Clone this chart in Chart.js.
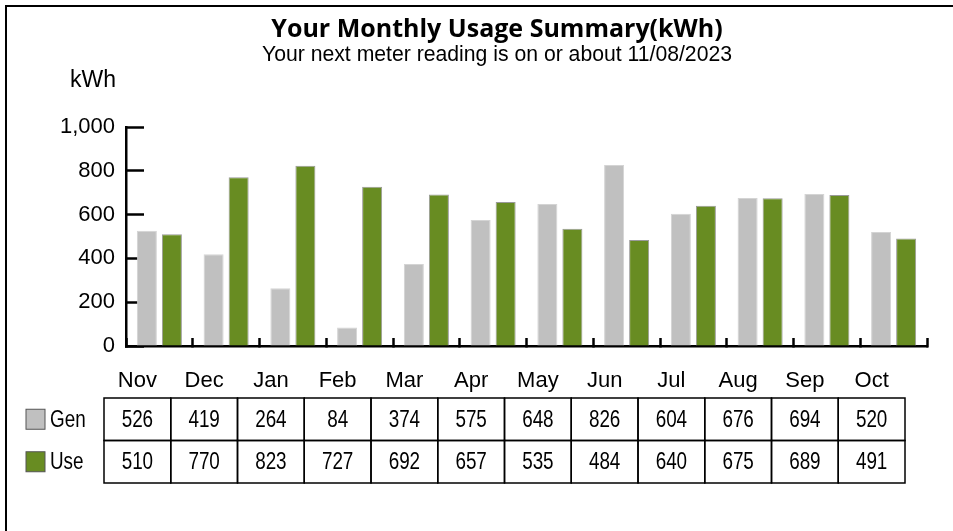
<!DOCTYPE html>
<html>
<head>
    <title>Your Monthly Usage Summary</title>
    <script src="https://cdn.jsdelivr.net/npm/chart.js"></script>
    <style>
        body { margin: 0; background: #fff; }
    </style>
</head>
<body>
    <canvas id="usageChart" width="953" height="531"></canvas>

    <script>
        const months = ['Nov', 'Dec', 'Jan', 'Feb', 'Mar', 'Apr', 'May', 'Jun', 'Jul', 'Aug', 'Sep', 'Oct'];
        const genValues = [526, 419, 264, 84, 374, 575, 648, 826, 604, 676, 694, 520];
        const useValues = [510, 770, 823, 727, 692, 657, 535, 484, 640, 675, 689, 491];
        const yTicks = [0, 200, 400, 600, 800, 1000];

        const arial = "'Liberation Sans', Arial, sans-serif";
        const labelShift = -22; // month labels + table sit left of the bars
        const narrowScale = 0.82; // no Arial Narrow installed, squeeze Arial instead

        function narrowText(ctx, text, x, y) {
            ctx.save();
            ctx.translate(x, y);
            ctx.scale(narrowScale, 1);
            ctx.fillText(text, 0, 0);
            ctx.restore();
        }

        // frame, kWh caption, legend and value table
        const extrasPlugin = {
            id: 'extras',
            beforeDraw(chart) {
                const ctx = chart.ctx;
                ctx.save();
                ctx.fillStyle = '#fff';
                ctx.fillRect(0, 0, chart.width, chart.height);
                ctx.strokeStyle = '#000';
                ctx.lineWidth = 2;
                ctx.beginPath();
                ctx.moveTo(6, chart.height);
                ctx.lineTo(6, 6);
                ctx.lineTo(chart.width, 6);
                ctx.stroke();
                ctx.restore();
            },
            afterDraw(chart) {
                const ctx = chart.ctx;
                const x = chart.scales.x;
                const y = chart.scales.y;
                ctx.save();

                // unit caption above the y axis
                ctx.fillStyle = '#000';
                ctx.font = '23px ' + arial;
                ctx.textAlign = 'right';
                ctx.textBaseline = 'alphabetic';
                ctx.fillText('kWh', y.right - 10, 87);

                // table
                const colW = x.width / months.length;
                const rowTop = 398;
                const rowH = 42.5;
                const rows = [genValues, useValues];
                ctx.lineWidth = 1.5;
                ctx.strokeStyle = '#000';
                ctx.textAlign = 'center';
                ctx.textBaseline = 'middle';
                ctx.font = '23px ' + arial;
                rows.forEach((vals, r) => {
                    vals.forEach((v, i) => {
                        const cx = x.getPixelForValue(i) + labelShift;
                        ctx.strokeRect(cx - colW / 2, rowTop + r * rowH, colW, rowH);
                        narrowText(ctx, String(v), cx, rowTop + r * rowH + rowH / 2 + 1);
                    });
                });

                // legend
                chart.data.datasets.forEach((ds, r) => {
                    const cy = rowTop + r * rowH + rowH / 2;
                    ctx.fillStyle = ds.backgroundColor;
                    ctx.fillRect(26, cy - 10, 19, 20);
                    ctx.strokeStyle = '#555';
                    ctx.lineWidth = 1;
                    ctx.strokeRect(26, cy - 10, 19, 20);
                    ctx.fillStyle = '#000';
                    ctx.textAlign = 'left';
                    narrowText(ctx, ds.label, 50, cy + 1);
                });
                ctx.restore();
            }
        };

        const ctx = document.getElementById('usageChart').getContext('2d');
        const chart = new Chart(ctx, {
            type: 'bar',
            data: {
                labels: months,
                datasets: [
                    {
                        label: 'Gen',
                        data: genValues,
                        backgroundColor: '#c0c0c0',
                        borderColor: '#d4d4d4',
                        borderWidth: 1,
                        categoryPercentage: 0.75,
                        barPercentage: 0.8
                    },
                    {
                        label: 'Use',
                        data: useValues,
                        backgroundColor: '#688c22',
                        borderColor: '#9a9a9a',
                        borderWidth: 1,
                        categoryPercentage: 0.75,
                        barPercentage: 0.8
                    }
                ]
            },
            options: {
                responsive: false,
                animation: false,
                layout: {
                    padding: { left: 41, right: 0, top: 0, bottom: 125 }
                },
                plugins: {
                    legend: { display: false },
                    tooltip: { enabled: false },
                    title: {
                        display: true,
                        text: 'Your Monthly Usage Summary(kWh)',
                        color: '#000',
                        font: { family: "'Open Sans', sans-serif", size: 25, weight: 'bold', lineHeight: 1 },
                        padding: { top: 17.5, bottom: 0 }
                    },
                    subtitle: {
                        display: true,
                        text: 'Your next meter reading is on or about 11/08/2023',
                        color: '#000',
                        font: { family: arial, size: 21.2, lineHeight: 1 },
                        padding: { top: 2, bottom: 61.3 }
                    }
                },
                scales: {
                    x: {
                        grid: {
                            drawOnChartArea: false,
                            tickLength: -8,
                            tickWidth: 2.5,
                            tickColor: '#000'
                        },
                        border: { color: '#000', width: 2.5 },
                        ticks: {
                            color: '#000',
                            font: { family: arial, size: 22 },
                            padding: 30,
                            labelOffset: labelShift,
                            maxRotation: 0
                        },
                        afterFit(scale) { scale.height = 60; }
                    },
                    y: {
                        min: 0,
                        max: 1000,
                        afterBuildTicks(scale) {
                            scale.ticks = yTicks.map(v => ({ value: v }));
                        },
                        grid: {
                            drawOnChartArea: false,
                            tickLength: -18,
                            tickWidth: 2.5,
                            tickColor: '#000'
                        },
                        border: { color: '#000', width: 2.5 },
                        ticks: {
                            color: '#000',
                            font: { family: arial, size: 22 },
                            padding: 29
                        },
                        afterFit(scale) { scale.width = 85; }
                    },
                    // empty right-hand gutter so the plot ends where the original does
                    gutter: {
                        type: 'linear',
                        position: 'right',
                        display: true,
                        grid: { display: false },
                        border: { display: false },
                        ticks: { display: false },
                        afterFit(scale) { scale.width = 26; }
                    }
                }
            },
            plugins: [extrasPlugin]
        });
    </script>
</body>
</html>
